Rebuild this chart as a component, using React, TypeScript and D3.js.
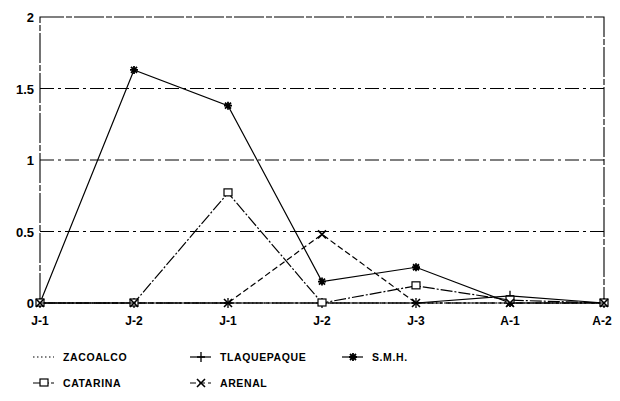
import React from 'react';
import * as d3 from 'd3';

const periods = ['J-1', 'J-2', 'J-1', 'J-2', 'J-3', 'A-1', 'A-2'];
const yTicks = [0, 0.5, 1, 1.5, 2];

const zacoalco = [0, 0, 0, 0, 0, 0, 0];
const tlaquepaque = [0, 0, 0, 0, 0, 0.05, 0];
const smh = [0, 1.63, 1.38, 0.15, 0.25, 0, 0];
const catarina = [0, 0, 0.77, 0, 0.12, 0.02, 0];
const arenal = [0, 0, 0, 0.48, 0, 0, 0];

const series = [
  { name: 'ZACOALCO', values: zacoalco, marker: 'none', dash: '1.5,2.5' },
  { name: 'TLAQUEPAQUE', values: tlaquepaque, marker: 'plus', dash: null },
  { name: 'S.M.H.', values: smh, marker: 'star', dash: null },
  { name: 'CATARINA', values: catarina, marker: 'square', dash: '12,2,2,2' },
  { name: 'ARENAL', values: arenal, marker: 'cross', dash: '6,3' },
];

const W = 620;
const H = 401;
const left = 40;
const right = 604;
const top = 17;
const bottom = 303;

const Marker = ({ type, x, y }: { type: string; x: number; y: number }) => {
  const s = 4;
  if (type === 'plus')
    return <path d={`M${x - s},${y}H${x + s}M${x},${y - s - 1}V${y + s + 1}`} stroke="#000" strokeWidth={1.3} />;
  if (type === 'cross')
    return <path d={`M${x - s},${y - s}L${x + s},${y + s}M${x - s},${y + s}L${x + s},${y - s}`} stroke="#000" strokeWidth={1.6} />;
  if (type === 'square')
    return <rect x={x - 4} y={y - 4} width={8} height={7} fill="#fff" stroke="#000" strokeWidth={1.2} />;
  if (type === 'star')
    return (
      <path
        d={`M${x - s},${y}H${x + s}M${x},${y - s}V${y + s}M${x - 3},${y - 3}L${x + 3},${y + 3}M${x - 3},${y + 3}L${x + 3},${y - 3}`}
        stroke="#000"
        strokeWidth={1.8}
      />
    );
  return null;
};

export default function App() {
  const x = d3.scalePoint<number>().domain(d3.range(periods.length)).range([left, right]);
  const y = d3.scaleLinear().domain([0, 2]).range([bottom, top]);
  const line = d3
    .line<number>()
    .x((_, i) => x(i) as number)
    .y((d) => y(d));

  const legend = [
    { s: series[0], lx: 33, ly: 357 },
    { s: series[1], lx: 190, ly: 357 },
    { s: series[2], lx: 342, ly: 357 },
    { s: series[3], lx: 33, ly: 383 },
    { s: series[4], lx: 190, ly: 383 },
  ];

  return (
    <svg width={W} height={H} style={{ position: 'absolute', left: 0, top: 0, background: '#fff' }}
      fontFamily="'Liberation Sans', Arial, sans-serif">
      {/* frame */}
      <path d={`M${left},${bottom}V${top}H${right}V${bottom}`} fill="none" stroke="#000" strokeWidth={1.1}
        strokeDasharray="30,2,6,2" />
      {yTicks.filter((t) => t > 0 && t < 2).map((t) => (
        <line key={t} x1={left} x2={right} y1={y(t)} y2={y(t)} stroke="#000" strokeWidth={1}
          strokeDasharray="14,4,3,4" />
      ))}
      <line x1={left} x2={right} y1={bottom} y2={bottom} stroke="#000" strokeWidth={1.2} strokeDasharray="20,3,3,3" />

      {yTicks.map((t) => (
        <text key={t} x={34} y={y(t) + 5} textAnchor="end" fontSize={13} fontWeight="bold">
          {t}
        </text>
      ))}
      {periods.map((p, i) => (
        <text key={i} x={(x(i) as number) + (i === periods.length - 1 ? -2 : 0)} y={325} textAnchor="middle"
          fontSize={12} fontWeight="bold">
          {p}
        </text>
      ))}

      {series.map((s) => (
        <g key={s.name}>
          <path d={line(s.values) || ''} fill="none" stroke="#000" strokeWidth={1.2}
            strokeDasharray={s.dash || undefined} />
          {s.values.map((v, i) => (
            <Marker key={i} type={s.marker} x={x(i) as number} y={y(v)} />
          ))}
        </g>
      ))}

      {legend.map(({ s, lx, ly }) => (
        <g key={s.name}>
          <line x1={lx} x2={lx + 21} y1={ly} y2={ly} stroke="#000" strokeWidth={1.2}
            strokeDasharray={s.dash || undefined} />
          <Marker type={s.marker} x={lx + 11} y={ly} />
          <text x={lx + 30} y={ly + 4} fontSize={10.5} fontWeight="bold" letterSpacing={0.6}>
            {s.name}
          </text>
        </g>
      ))}
    </svg>
  );
}
